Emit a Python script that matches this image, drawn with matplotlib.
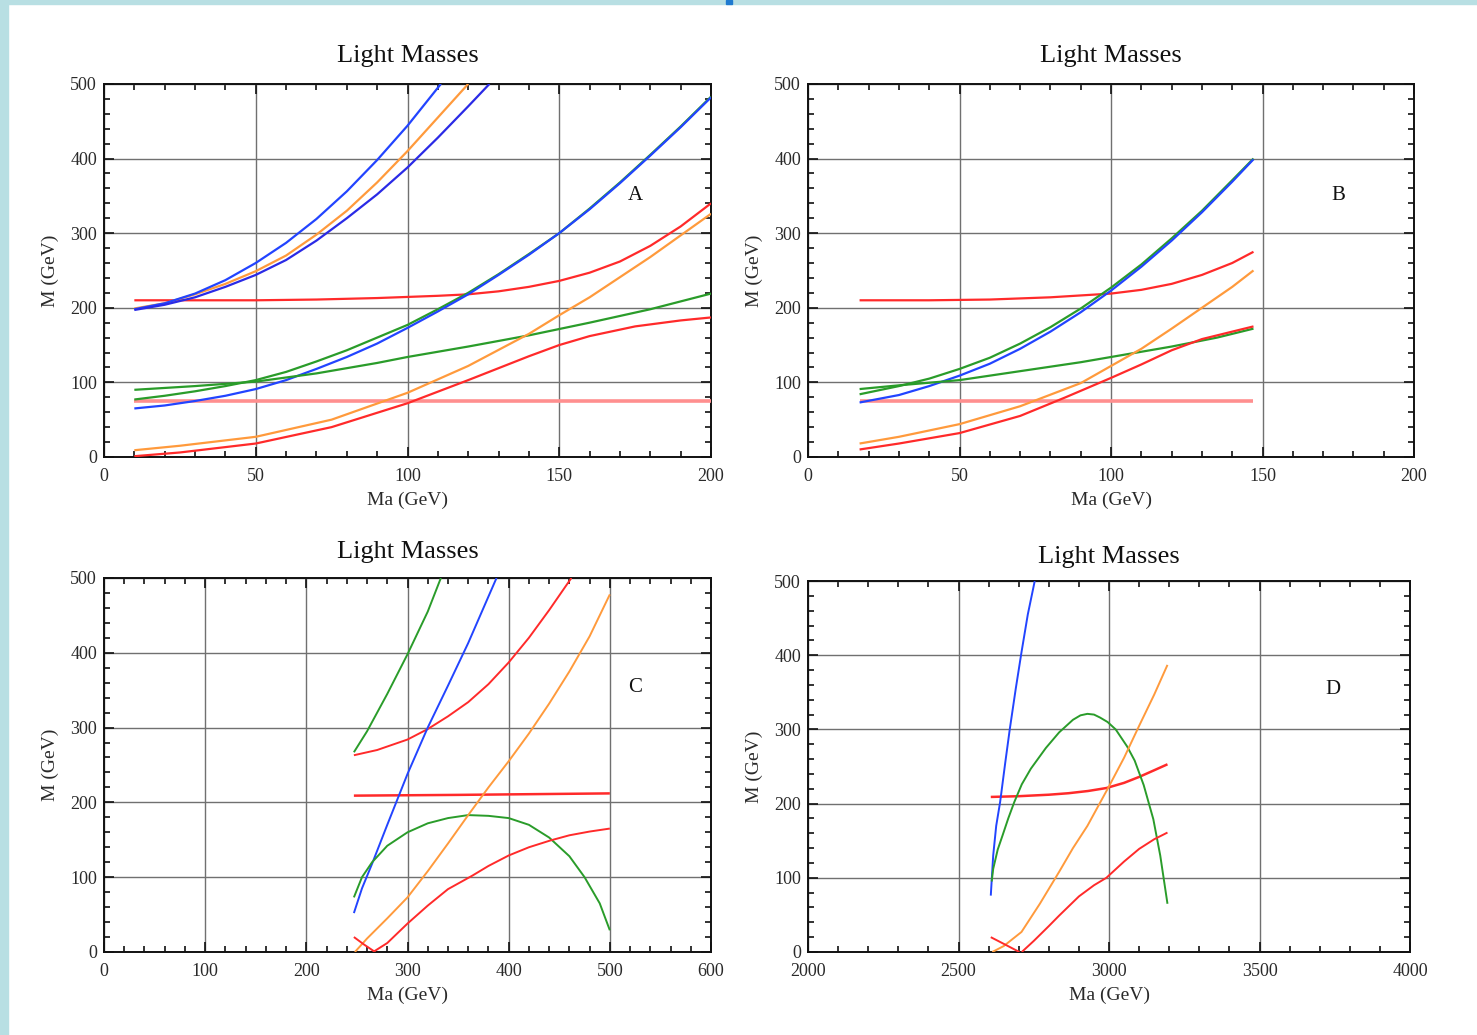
import numpy as np
import matplotlib.pyplot as plt
from matplotlib.patches import Rectangle
from matplotlib.ticker import MultipleLocator

plt.rcParams['font.family'] = ['Liberation Serif', 'DejaVu Serif']

RED = '#ff2a2a'
PINK = '#ff8f8f'
ORANGE = '#ff9a3c'
GREEN = '#2a9c2a'
BLUE = '#2244ff'
BLUE2 = '#2a2ae6'

# ---- panel A ----
a_blue_up = [(10, 198), (20, 206), (30, 219), (40, 237), (50, 260), (60, 287), (70, 319),
             (80, 356), (90, 398), (100, 444), (111, 500)]
a_orange_up = [(10, 199), (20, 206), (30, 218), (40, 232), (50, 249), (60, 270), (70, 298),
               (80, 330), (90, 368), (100, 410), (110, 455), (120, 500)]
a_blue_mid = [(10, 197), (20, 204), (30, 214), (40, 228), (50, 244), (60, 264), (70, 290),
              (80, 320), (90, 352), (100, 388), (110, 428), (120, 470), (127, 500)]
a_red_up = [(10, 210), (30, 210), (50, 210), (70, 211), (90, 213), (110, 216), (120, 218),
            (130, 222), (140, 228), (150, 236), (160, 247), (170, 262), (180, 283), (190, 309),
            (200, 340)]
a_green_steep = [(10, 77), (20, 82), (30, 88), (40, 95), (50, 103), (60, 114), (70, 128),
                 (80, 143), (90, 160), (100, 177), (110, 198), (120, 220), (130, 245),
                 (140, 272), (150, 300), (160, 333), (170, 368), (180, 405), (190, 443),
                 (200, 483)]
a_blue_low = [(10, 65), (20, 69), (30, 75), (40, 82), (50, 91), (60, 103), (70, 118), (80, 134),
              (90, 152), (100, 173), (110, 195), (120, 218), (130, 244), (140, 271), (150, 300),
              (160, 332), (170, 367), (180, 404), (190, 442), (200, 482)]
a_green_lin = [(10, 90), (30, 95), (50, 101), (70, 112), (90, 126), (100, 134), (120, 148),
               (140, 163), (160, 180), (180, 198), (200, 219)]
a_pink = [(10, 75), (200, 75)]
a_orange_low = [(10, 9), (25, 15), (50, 27), (75, 50), (100, 86), (120, 122), (140, 165),
                (150, 190), (160, 214), (180, 268), (200, 326)]
a_red_low = [(10, 1), (25, 6), (50, 18), (75, 40), (100, 72), (120, 103), (140, 135), (150, 150),
             (160, 162), (175, 175), (190, 183), (200, 187)]

# ---- panel B ----
b_green_steep = [(17, 84), (30, 95), (40, 105), (50, 118), (60, 133), (70, 152), (80, 174),
                 (90, 199), (100, 227), (110, 258), (120, 293), (130, 330), (140, 371), (147, 400)]
b_blue = [(17, 73), (30, 83), (40, 95), (50, 109), (60, 125), (70, 145), (80, 168), (90, 194),
          (100, 223), (110, 255), (120, 290), (130, 328), (140, 369), (147, 399)]
b_red_up = [(17, 210), (40, 210), (60, 211), (80, 214), (100, 219), (110, 224), (120, 232),
            (130, 244), (140, 260), (147, 275)]
b_orange = [(17, 18), (30, 27), (50, 44), (70, 68), (90, 99), (100, 122), (110, 145), (120, 172),
            (130, 200), (140, 228), (147, 250)]
b_green_lin = [(17, 91), (30, 96), (50, 103), (70, 115), (90, 127), (100, 134), (120, 148),
               (135, 160), (147, 172)]
b_red_low = [(17, 10), (30, 18), (50, 32), (70, 55), (85, 80), (100, 106), (110, 124),
             (120, 143), (130, 158), (140, 168), (147, 175)]
b_pink = [(17, 75), (147, 75)]

# ---- panel C ----
c_green_steep = [(247, 267), (260, 295), (280, 345), (300, 398), (320, 455), (333, 500)]
c_red_up = [(247, 263), (270, 270), (300, 284), (320, 298), (340, 315), (360, 334), (380, 358),
            (400, 387), (420, 420), (440, 457), (462, 500)]
c_blue = [(247, 52), (255, 85), (265, 118), (280, 170), (300, 238), (320, 300), (340, 356),
          (360, 413), (388, 500)]
c_red_flat = [(247, 209), (350, 210), (500, 212)]
c_green_arch = [(247, 73), (255, 100), (265, 120), (280, 142), (300, 160), (320, 172), (340, 179),
                (360, 183), (380, 182), (400, 179), (420, 170), (440, 153), (460, 128),
                (475, 100), (490, 65), (500, 29)]
c_orange = [(248, 0), (260, 18), (280, 45), (300, 73), (320, 108), (340, 145), (360, 183),
            (380, 220), (400, 255), (420, 292), (440, 332), (460, 375), (480, 422), (500, 478)]
c_red_short = [(247, 20), (257, 10), (268, 0)]
c_red_low = [(266, 0), (280, 12), (300, 38), (320, 62), (340, 84), (364, 102), (380, 115),
             (400, 129), (420, 140), (441, 149), (460, 156), (480, 161), (500, 165)]

# ---- panel D ----
d_blue = [(2607, 76), (2615, 130), (2625, 170), (2638, 202), (2655, 255), (2670, 300),
          (2690, 355), (2709, 404), (2730, 455), (2753, 500)]
d_green_arch = [(2610, 95), (2615, 112), (2630, 138), (2646, 157), (2665, 180), (2685, 202),
                (2710, 226), (2740, 247), (2790, 275), (2834, 296), (2880, 313), (2905, 319),
                (2928, 321), (2950, 320), (2970, 316), (2995, 310), (3022, 300), (3060, 277),
                (3085, 258), (3115, 225), (3147, 179), (3170, 130), (3194, 65)]
d_red_flat = [(2607, 209), (2700, 210), (2800, 212), (2865, 214), (2930, 217), (2991, 221),
              (3050, 228), (3100, 236), (3150, 245), (3194, 253)]
d_orange = [(2612, 0), (2650, 8), (2709, 27), (2770, 65), (2834, 108), (2880, 140), (2928, 170),
            (2998, 222), (3050, 262), (3100, 305), (3150, 347), (3194, 387)]
d_red_short = [(2607, 20), (2650, 11), (2702, 0)]
d_red_low = [(2710, 0), (2750, 15), (2800, 35), (2834, 49), (2900, 75), (2950, 90), (2991, 100),
             (3050, 122), (3100, 139), (3150, 152), (3194, 161)]

panels = [
    dict(rect=[0.0704, 0.5585, 0.4110, 0.3604], xlim=(0, 200), xmaj=50, xmin=10, label='A',
         lab_xy=(175, 350), tpad=16,
         curves=[(a_pink, PINK, 2.6), (a_red_up, RED, 1.6), (a_green_steep, GREEN, 1.6),
                 (a_blue_low, BLUE, 1.6), (a_green_lin, GREEN, 1.6), (a_orange_low, ORANGE, 1.6),
                 (a_red_low, RED, 1.6), (a_orange_up, ORANGE, 1.6), (a_blue_up, BLUE, 1.6),
                 (a_blue_mid, BLUE2, 1.6)]),
    dict(rect=[0.5471, 0.5585, 0.4103, 0.3604], xlim=(0, 200), xmaj=50, xmin=10, label='B',
         lab_xy=(175, 350), tpad=16,
         curves=[(b_pink, PINK, 2.6), (b_red_up, RED, 1.6), (b_green_steep, GREEN, 1.6),
                 (b_blue, BLUE, 1.6), (b_green_lin, GREEN, 1.6), (b_orange, ORANGE, 1.6),
                 (b_red_low, RED, 1.6)]),
    dict(rect=[0.0704, 0.0802, 0.4110, 0.3614], xlim=(0, 600), xmaj=100, xmin=20, label='C',
         lab_xy=(525, 353), tpad=14,
         curves=[(c_red_flat, RED, 1.8), (c_green_steep, GREEN, 1.4), (c_red_up, RED, 1.4),
                 (c_blue, BLUE, 1.4), (c_green_arch, GREEN, 1.4), (c_orange, ORANGE, 1.4),
                 (c_red_short, RED, 1.4), (c_red_low, RED, 1.4)]),
    dict(rect=[0.5471, 0.0802, 0.4076, 0.3584], xlim=(2000, 4000), xmaj=500, xmin=100, label='D',
         lab_xy=(3745, 354), tpad=13,
         curves=[(d_red_flat, RED, 1.8), (d_blue, BLUE, 1.4), (d_green_arch, GREEN, 1.4),
                 (d_orange, ORANGE, 1.4), (d_red_short, RED, 1.4), (d_red_low, RED, 1.4)]),
]

fig = plt.figure(figsize=(14.77, 10.35), dpi=100)
fig.patches.append(Rectangle((0, 0), 0.0055, 1, transform=fig.transFigure, color='#b8dfe3', zorder=0))
fig.patches.append(Rectangle((0, 0.996), 1, 0.004, transform=fig.transFigure, color='#b8dfe3', zorder=0))
fig.patches.append(Rectangle((0.4915, 0.996), 0.004, 0.004, transform=fig.transFigure, color='#1f7ad0', zorder=1))

txt = '#2a2a2a'
for p in panels:
    ax = fig.add_axes(p['rect'])
    for pts, col, lw in p['curves']:
        xy = np.array(pts, dtype=float)
        ax.plot(xy[:, 0], xy[:, 1], color=col, lw=lw, solid_capstyle='butt', zorder=3)
    ax.set_xlim(*p['xlim'])
    ax.set_ylim(0, 500)
    ax.xaxis.set_major_locator(MultipleLocator(p['xmaj']))
    ax.xaxis.set_minor_locator(MultipleLocator(p['xmin']))
    ax.yaxis.set_major_locator(MultipleLocator(100))
    ax.yaxis.set_minor_locator(MultipleLocator(20))
    ax.grid(True, which='major', color='#707070', lw=1.0, zorder=1)
    ax.tick_params(which='both', direction='in', top=True, right=True, colors='#111111',
                   labelcolor=txt, labelsize=13, width=1.2)
    ax.tick_params(which='major', length=7, pad=5)
    ax.tick_params(axis='x', which='major', pad=8)
    ax.tick_params(which='minor', length=4)
    for s in ax.spines.values():
        s.set_linewidth(1.4)
        s.set_color('#111111')
    ax.set_title('Light Masses', fontsize=19, color='#111111', pad=p['tpad'])
    ax.set_xlabel('Ma (GeV)', fontsize=14, color=txt, labelpad=5)
    ax.set_ylabel('M (GeV)', fontsize=14, color=txt, labelpad=8)
    ax.text(p['lab_xy'][0], p['lab_xy'][1], p['label'], fontsize=15, color='#111111',
            ha='center', va='center')

fig.savefig('out.png', dpi=100, facecolor='white')
